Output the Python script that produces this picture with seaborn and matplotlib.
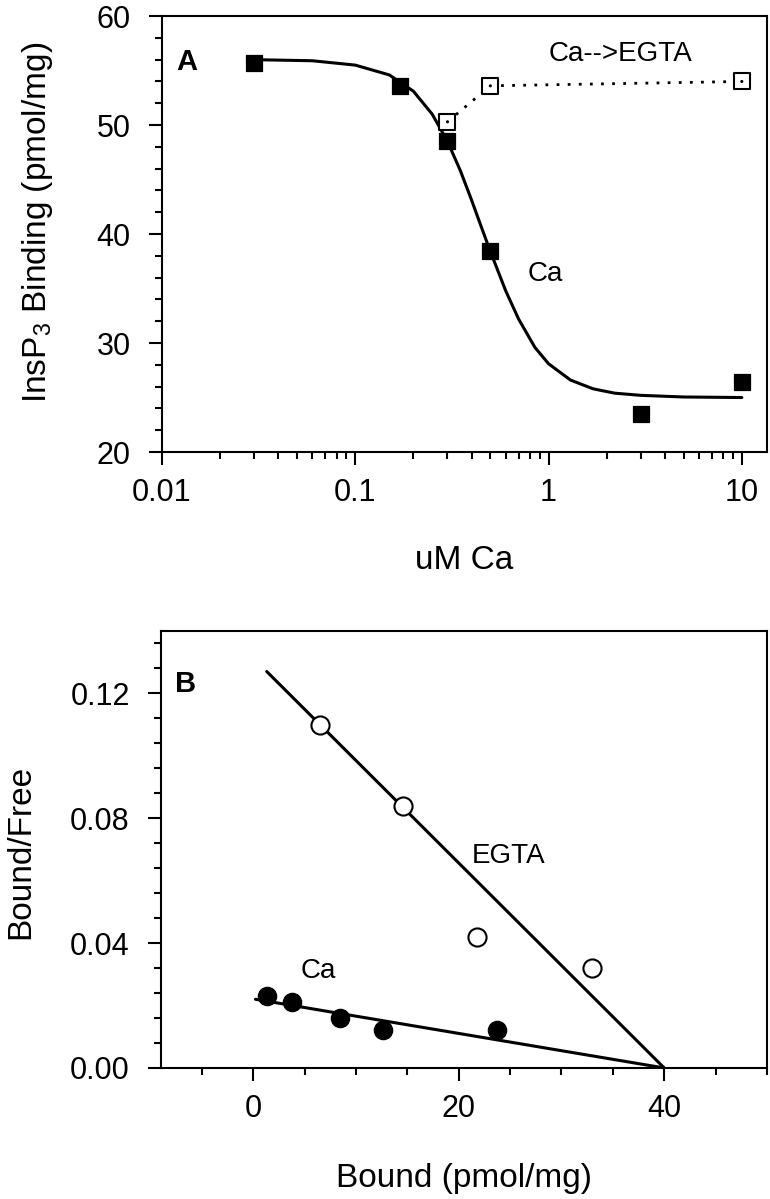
import numpy as np
import pandas as pd
import matplotlib
matplotlib.use("Agg")
import matplotlib.pyplot as plt
import matplotlib.ticker as mticker
import seaborn as sns

# Panel A: InsP3 binding vs free Ca
ca_conc = [0.03, 0.17, 0.3, 0.5, 3.0, 10.0]
ca_binding = [55.7, 53.6, 48.5, 38.4, 23.5, 26.4]
egta_conc = [0.3, 0.5, 10.0]
egta_binding = [50.3, 53.6, 54.0]
# fitted curve
fit_conc = [0.03, 0.06, 0.1, 0.15, 0.2, 0.25, 0.3, 0.35, 0.4, 0.45, 0.5, 0.6,
            0.7, 0.85, 1.0, 1.3, 1.7, 2.2, 3.0, 5.0, 10.0]
fit_binding = [56.0, 55.9, 55.5, 54.6, 53.1, 51.0, 48.5, 45.8, 43.1, 40.6, 38.4,
               34.8, 32.2, 29.6, 28.1, 26.6, 25.8, 25.4, 25.2, 25.05, 25.0]

# Panel B: Scatchard plot
egta_bound = [6.5, 14.6, 21.8, 33.0]
egta_bf = [0.110, 0.084, 0.042, 0.032]
ca_bound = [1.3, 3.8, 8.4, 12.6, 23.7]
ca_bf = [0.023, 0.021, 0.016, 0.012, 0.012]
egta_line_x = [1.3, 40.0]
egta_line_y = [0.127, 0.0]
ca_line_x = [0.2, 40.0]
ca_line_y = [0.022, 0.0]

sns.set_style("ticks", {'axes.edgecolor': 'black', 'text.color': 'black',
                        'axes.labelcolor': 'black', 'xtick.color': 'black',
                        'ytick.color': 'black'})
plt.rcParams['font.family'] = ['Liberation Sans', 'DejaVu Sans']
plt.rcParams['mathtext.fontset'] = 'custom'
plt.rcParams['mathtext.rm'] = 'Liberation Sans'

tick_fs = 22
label_fs = 24
note_fs = 20
fig = plt.figure(figsize=(7.7, 11.99), dpi=100)
axA = fig.add_axes([0.2104, 0.623, 0.7857, 0.3636])
axB = fig.add_axes([0.209, 0.1093, 0.787, 0.3645])

# ---- panel A
dfA = pd.DataFrame({'conc': ca_conc, 'binding': ca_binding})
dfE = pd.DataFrame({'conc': egta_conc, 'binding': egta_binding})
axA.plot(fit_conc, fit_binding, color='black', lw=2.2)
axA.plot(egta_conc, egta_binding, color='black', lw=2, ls=(0, (1, 3)))
sns.scatterplot(data=dfA, x='conc', y='binding', marker='s', s=125, color='black',
                edgecolor='black', ax=axA, zorder=3)
sns.scatterplot(data=dfE, x='conc', y='binding', marker='s', s=120, facecolor='white',
                edgecolor='black', linewidth=1.5, ax=axA, zorder=3)
sns.scatterplot(data=dfE, x='conc', y='binding', marker='o', s=5, color='black',
                edgecolor='none', ax=axA, zorder=4)
axA.set_xscale('log')
axA.set_xlim(0.01, 13.5)
axA.set_ylim(20, 60)
axA.xaxis.set_major_locator(mticker.FixedLocator([0.01, 0.1, 1, 10]))
axA.xaxis.set_major_formatter(mticker.FixedFormatter(['0.01', '0.1', '1', '10']))
axA.xaxis.set_minor_locator(mticker.LogLocator(base=10, subs=np.arange(2, 10)))
axA.xaxis.set_minor_formatter(mticker.NullFormatter())
axA.yaxis.set_major_locator(mticker.MultipleLocator(10))
axA.yaxis.set_minor_locator(mticker.MultipleLocator(2))
axA.set_xlabel('uM Ca', fontsize=label_fs, va='center')
axA.set_ylabel('InsP$_\\mathregular{3}$ Binding (pmol/mg)', fontsize=label_fs, va='center')
axA.xaxis.set_label_coords(0.5, -0.248)
axA.yaxis.set_label_coords(-0.205, 0.5275)
axA.text(0.0118, 55.8, 'A', fontsize=21, fontweight='bold', ha='left', va='center')
axA.text(1.0, 56.5, 'Ca-->EGTA', fontsize=note_fs, ha='left', va='center')
axA.text(0.78, 36.3, 'Ca', fontsize=note_fs, ha='left', va='center')

# ---- panel B
dfBe = pd.DataFrame({'bound': egta_bound, 'bf': egta_bf})
dfBc = pd.DataFrame({'bound': ca_bound, 'bf': ca_bf})
axB.plot(egta_line_x, egta_line_y, color='black', lw=2.2)
axB.plot(ca_line_x, ca_line_y, color='black', lw=2.2)
sns.scatterplot(data=dfBe, x='bound', y='bf', marker='o', s=170, facecolor='white',
                edgecolor='black', linewidth=1.5, ax=axB, zorder=3)
sns.scatterplot(data=dfBc, x='bound', y='bf', marker='o', s=170, color='black',
                edgecolor='black', ax=axB, zorder=3)
axB.set_xlim(-9, 50)
axB.set_ylim(0, 0.14)
axB.xaxis.set_major_locator(mticker.MultipleLocator(20))
axB.xaxis.set_minor_locator(mticker.MultipleLocator(5))
axB.yaxis.set_major_locator(mticker.MultipleLocator(0.04))
axB.yaxis.set_minor_locator(mticker.MultipleLocator(0.008))
axB.yaxis.set_major_formatter(mticker.FormatStrFormatter('%.2f'))
axB.set_xlabel('Bound (pmol/mg)', fontsize=label_fs, va='center')
axB.set_ylabel('Bound/Free', fontsize=label_fs, va='center')
axB.xaxis.set_label_coords(0.5, -0.252)
axB.yaxis.set_label_coords(-0.231, 0.494)
axB.text(-7.6, 0.123, 'B', fontsize=21, fontweight='bold', ha='left', va='center')
axB.text(21.3, 0.068, 'EGTA', fontsize=note_fs, ha='left', va='center')
axB.text(4.6, 0.031, 'Ca', fontsize=note_fs, ha='left', va='center')

for ax in (axA, axB):
    ax.tick_params(which='both', direction='out', top=False, right=False,
                   width=1.5, labelsize=tick_fs, colors='black')
    ax.tick_params(axis='y', which='both', pad=13)
    ax.tick_params(axis='x', which='both', pad=9)
    ax.tick_params(which='major', length=9.5)
    ax.tick_params(which='minor', length=5)
    for sp in ax.spines.values():
        sp.set_visible(True)
        sp.set_linewidth(1.5)
        sp.set_color('black')

fig.savefig('out.png', dpi=100)
